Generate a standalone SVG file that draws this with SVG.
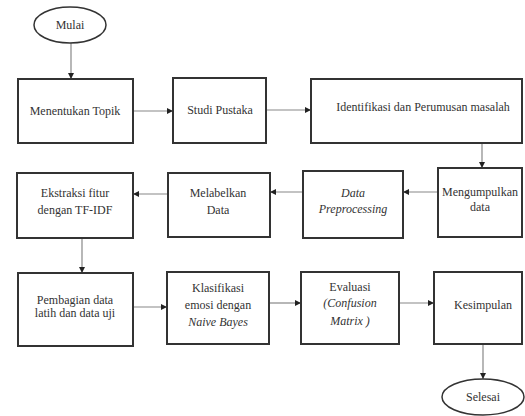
<svg xmlns="http://www.w3.org/2000/svg" width="525" height="416" viewBox="0 0 525 416" font-family="Liberation Serif, Times New Roman, DejaVu Serif, serif">
<style>
.box{fill:#fff;stroke:#333;stroke-width:2}
.t{font-family:'Liberation Serif','Times New Roman','DejaVu Serif',serif;font-size:12px;fill:#333;text-anchor:middle}
.i{font-style:italic}
.c{fill:none;stroke:#888;stroke-width:1.2}
</style>
<defs>
<marker id="ah" markerUnits="userSpaceOnUse" markerWidth="7" markerHeight="7" refX="6" refY="3" orient="auto">
<path d="M0,0 L6,3 L0,6 z" fill="#222"/>
</marker>
</defs>
<rect width="525" height="416" fill="#fff"/>
<g id="connectors">
<line class="c" x1="71" y1="43" x2="71" y2="79" marker-end="url(#ah)"/>
<line class="c" x1="133" y1="111" x2="173" y2="111" marker-end="url(#ah)"/>
<line class="c" x1="266" y1="110" x2="311" y2="110" marker-end="url(#ah)"/>
<line class="c" x1="482" y1="143" x2="482" y2="168" marker-end="url(#ah)"/>
<line class="c" x1="438" y1="192" x2="403" y2="192" marker-end="url(#ah)"/>
<line class="c" x1="303" y1="192" x2="270" y2="192" marker-end="url(#ah)"/>
<line class="c" x1="168" y1="194" x2="133" y2="194" marker-end="url(#ah)"/>
<line class="c" x1="82" y1="238" x2="82" y2="273" marker-end="url(#ah)"/>
<line class="c" x1="133" y1="307" x2="167" y2="307" marker-end="url(#ah)"/>
<line class="c" x1="269" y1="303" x2="301" y2="303" marker-end="url(#ah)"/>
<line class="c" x1="399" y1="303" x2="434" y2="303" marker-end="url(#ah)"/>
<line class="c" x1="483" y1="344" x2="483" y2="379" marker-end="url(#ah)"/>
</g>
<g id="mulai">
<ellipse cx="70" cy="25" rx="36" ry="18" fill="#fff" stroke="#333" stroke-width="1.5"/>
<text class="t" x="70" y="29">Mulai</text>
</g>
<g id="menentukan">
<rect class="box" x="18" y="79" width="115" height="64"/>
<text class="t" x="75" y="115">Menentukan Topik</text>
</g>
<g id="studi">
<rect class="box" x="173" y="78" width="93" height="65"/>
<text class="t" x="220" y="114">Studi Pustaka</text>
</g>
<g id="identifikasi">
<rect class="box" x="311" y="79" width="211" height="64"/>
<text class="t" x="423" y="111">Identifikasi dan Perumusan masalah</text>
</g>
<g id="mengumpulkan">
<rect class="box" x="438" y="168" width="84" height="69"/>
<text class="t" x="480" y="196">Mengumpulkan</text>
<text class="t" x="480" y="211">data</text>
</g>
<g id="preprocessing">
<rect class="box" x="303" y="171" width="100" height="67"/>
<text class="t i" x="353" y="197">Data</text>
<text class="t i" x="353" y="213">Preprocessing</text>
</g>
<g id="melabelkan">
<rect class="box" x="168" y="173" width="102" height="64"/>
<text class="t" x="218" y="197">Melabelkan</text>
<text class="t" x="218" y="214">Data</text>
</g>
<g id="ekstraksi">
<rect class="box" x="17" y="173" width="116" height="65"/>
<text class="t" x="75" y="197">Ekstraksi fitur</text>
<text class="t" x="75" y="214">dengan TF-IDF</text>
</g>
<g id="pembagian">
<rect class="box" x="18" y="273" width="115" height="73"/>
<text class="t" x="75" y="304">Pembagian data</text>
<text class="t" x="75" y="317">latih dan data uji</text>
</g>
<g id="klasifikasi">
<rect class="box" x="167" y="272" width="102" height="72"/>
<text class="t" x="218" y="292">Klasifikasi</text>
<text class="t" x="218" y="309">emosi dengan</text>
<text class="t i" x="218" y="326">Naive Bayes</text>
</g>
<g id="evaluasi">
<rect class="box" x="301" y="272" width="98" height="72"/>
<text class="t" x="350" y="291">Evaluasi</text>
<text class="t i" x="350" y="307">(Confusion</text>
<text class="t i" x="350" y="325">Matrix )</text>
</g>
<g id="kesimpulan">
<rect class="box" x="434" y="272" width="88" height="72"/>
<text class="t" x="483" y="309">Kesimpulan</text>
</g>
<g id="selesai">
<ellipse cx="483" cy="397" rx="41" ry="18" fill="#fff" stroke="#333" stroke-width="1.5"/>
<text class="t" x="483" y="401">Selesai</text>
</g>
</svg>
